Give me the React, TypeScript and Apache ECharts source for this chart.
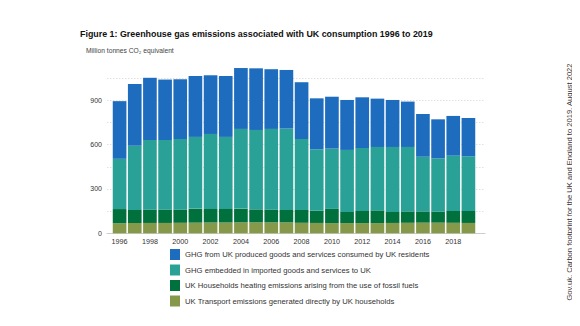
import React, { useEffect, useRef } from "react";
import * as echarts from "echarts";

const years = ["1996","1997","1998","1999","2000","2001","2002","2003","2004","2005","2006","2007","2008","2009","2010","2011","2012","2013","2014","2015","2016","2017","2018","2019"];
const transport = [68,69,70,70,71,72,73,73,74,74,74,74,71,70,69,69,69,69,70,71,72,72,71,70];
const heating = [96,89,90,90,89,95,92,92,93,88,86,84,87,83,96,75,82,86,74,77,76,75,80,81];
const imported = [340,435,471,471,478,485,507,487,539,537,546,550,480,415,408,420,426,429,440,436,370,360,374,370];
const ukProduced = [390,417,421,409,404,412,397,412,412,417,404,397,384,345,351,338,343,327,318,307,289,264,269,259];

const seriesNames = [
  "GHG from UK produced goods and services consumed by UK residents",
  "GHG embedded in imported goods and services to UK",
  "UK Households heating emissions arising from the use of fossil fuels",
  "UK Transport emissions generated directly by UK households",
];
const colors = ["#1d6cbd", "#2aa196", "#00703c", "#86994b"];
const yTickLabels = [0, 300, 600, 900];

const FONT = "'Liberation Sans', Arial, sans-serif";

export default function App() {
  const ref = useRef<HTMLDivElement>(null);
  useEffect(() => {
    const chart = echarts.init(ref.current!, null, { renderer: "svg" });
    const yMax = 1125;
    const seriesData = [ukProduced, imported, heating, transport];
    const order = [3, 2, 1, 0];
    chart.setOption({
      animation: false,
      textStyle: { fontFamily: FONT },
      title: {
        text: "Figure 1: Greenhouse gas emissions associated with UK consumption 1996 to 2019",
        left: 80,
        top: 29,
        padding: 0,
        textStyle: { fontSize: 8.9, fontWeight: "bold", color: "#111", fontFamily: FONT },
      },
      graphic: [
        {
          type: "text",
          left: 86,
          top: 47,
          style: { text: "Million tonnes CO₂ equivalent", fontSize: 6.7, fill: "#444", fontFamily: FONT },
        },
        {
          type: "text",
          x: 569,
          y: 182,
          rotation: Math.PI / 2,
          style: {
            text: "Gov.uk, Carbon footprint for the UK and England to 2019, August 2022",
            fontSize: 7.6,
            fill: "#333",
            align: "center",
            verticalAlign: "middle",
            fontFamily: FONT,
          },
        },
      ],
      legend: {
        orient: "vertical",
        left: 170,
        top: 249,
        padding: 0,
        itemWidth: 10,
        itemHeight: 11,
        itemGap: 4.5,
        icon: "rect",
        data: seriesNames,
        textStyle: { fontSize: 7.7, color: "#333", fontFamily: FONT },
      },
      grid: [
        { left: 107, right: 95, top: 67, bottom: 92.7 },
        { left: 112, right: 104, top: 67, bottom: 92.7 },
      ],
      xAxis: [
        {
          type: "category",
          gridIndex: 0,
          data: [""],
          axisLine: { show: true, lineStyle: { color: "#ccc", width: 1 } },
          axisTick: { show: false },
          axisLabel: { show: false },
        },
        {
          type: "category",
          gridIndex: 1,
          data: years,
          axisLine: { show: false },
          axisTick: { show: false },
          axisLabel: { interval: 1, fontSize: 7.2, color: "#333", margin: 5, fontFamily: FONT },
        },
      ],
      yAxis: [
        {
          type: "value",
          gridIndex: 0,
          min: 0,
          max: yMax,
          interval: 150,
          axisLine: { show: false },
          axisTick: { show: false },
          axisLabel: {
            fontSize: 7,
            color: "#333",
            margin: 5,
            showMaxLabel: false,
            fontFamily: FONT,
            formatter: (v: number) => (yTickLabels.includes(v) ? String(v) : ""),
          },
          splitLine: {
            show: true,
            showMinLine: false,
            showMaxLine: false,
            lineStyle: { color: "#d8d8d8", type: [1.5, 1.5], width: 0.8 },
          },
        },
        {
          type: "value",
          gridIndex: 1,
          min: 0,
          max: yMax,
          show: false,
          splitLine: { show: false },
        },
      ],
      series: order.map((i) => ({
        name: seriesNames[i],
        type: "bar",
        stack: "total",
        xAxisIndex: 1,
        yAxisIndex: 1,
        data: seriesData[i],
        barCategoryGap: "10%",
        itemStyle: { color: colors[i] },
      })),
    });
    return () => chart.dispose();
  }, []);
  return <div ref={ref} style={{ width: 580, height: 326, margin: -8 }} />;
}
